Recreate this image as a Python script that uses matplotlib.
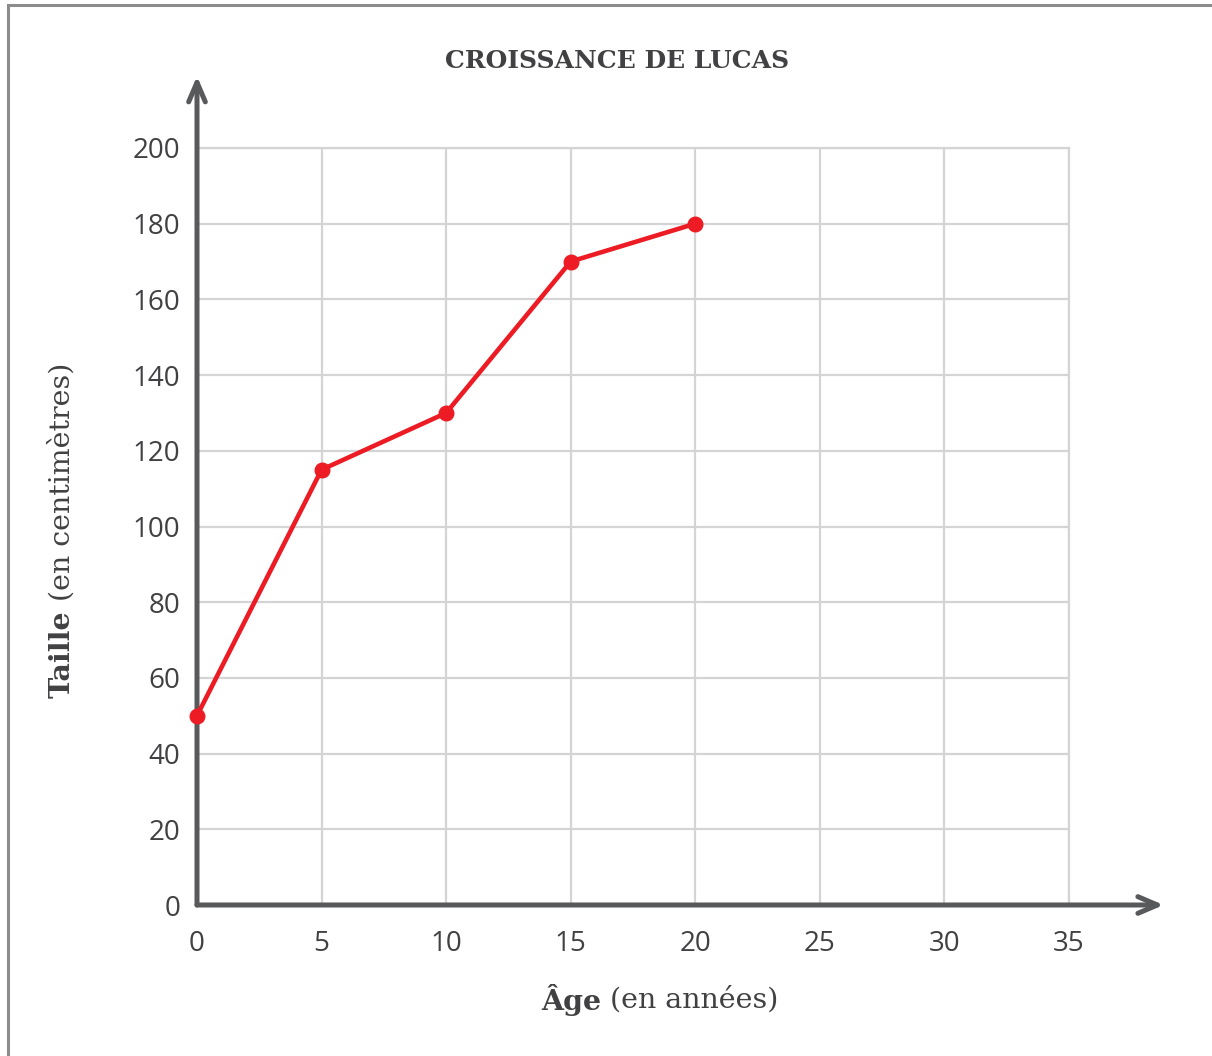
import matplotlib.pyplot as plt
from matplotlib.patches import Rectangle

# Croissance de Lucas
ages = [0, 5, 10, 15, 20]
tailles = [50, 115, 130, 170, 180]
x_ticks = [0, 5, 10, 15, 20, 25, 30, 35]
y_ticks = [0, 20, 40, 60, 80, 100, 120, 140, 160, 180, 200]

axis_col = '#58595b'
text_col = '#414042'
red = '#ed1c24'

fig = plt.figure(figsize=(12.12, 10.56), dpi=100)
ax = fig.add_axes([197/1212, 1 - 905/1056, (1069 - 197)/1212, (905 - 148)/1056])

# cadre gris autour de la figure (coupé à droite et en bas)
fig.patches.append(Rectangle((8/1212, -0.05), 1.2, 1 - 5/1056 + 0.05,
                             transform=fig.transFigure, fill=False,
                             edgecolor='#8c8c8c', lw=2.2))

ax.set_xlim(0, 35)
ax.set_ylim(0, 200)
ax.set_xticks(x_ticks)
ax.set_yticks(y_ticks)
ax.grid(True, color='#d4d4d4', lw=1.6)
ax.set_axisbelow(True)
for s in ['left', 'bottom']:
    ax.spines[s].set_visible(False)
for s in ['top', 'right']:
    ax.spines[s].set_color('#d4d4d4')
    ax.spines[s].set_linewidth(1.6)
ax.tick_params(length=0, labelsize=20, labelcolor=text_col)
ax.tick_params(axis='y', pad=12)
ax.tick_params(axis='x', pad=18)
for lab in ax.get_xticklabels() + ax.get_yticklabels():
    lab.set_family('Open Sans')

# axes avec flèches
arrow = dict(arrowstyle='->,head_length=1.4,head_width=0.6',
             color=axis_col, lw=3.6, shrinkA=0, shrinkB=0)
ax.annotate('', xy=(0, 219), xytext=(0, 0), arrowprops=arrow, annotation_clip=False)
ax.annotate('', xy=(38.8, 0), xytext=(0, 0), arrowprops=arrow, annotation_clip=False)

ax.plot(ages, tailles, color=red, lw=3.3, marker='o', ms=10.5, clip_on=False, zorder=5)

fig.text(617/1212, 1 - 61/1056, 'CROISSANCE DE LUCAS', ha='center', va='center',
         family='DejaVu Serif', weight='bold', fontsize=18, color=text_col)

# titres d'axes : partie en gras + partie normale
fs = 20.5
r = fig.canvas.get_renderer()

b = fig.text(0, 0, 'Âge', family='DejaVu Serif', weight='bold', fontsize=fs,
             color=text_col, va='center')
n = fig.text(0, 0, ' (en années)', family='DejaVu Serif', fontsize=fs,
             color=text_col, va='center')
wb = b.get_window_extent(r).width
wn = n.get_window_extent(r).width
x0 = 660 - (wb + wn) / 2
yc = 1 - 1000/1056
b.set_position((x0/1212, yc))
n.set_position(((x0 + wb)/1212, yc))

b = fig.text(0, 0, 'Taille', family='DejaVu Serif', weight='bold', fontsize=fs,
             color=text_col, ha='center', rotation=90, rotation_mode='anchor')
n = fig.text(0, 0, ' (en centimètres)', family='DejaVu Serif', fontsize=fs,
             color=text_col, ha='center', rotation=90, rotation_mode='anchor')
hb = b.get_window_extent(r).height
hn = n.get_window_extent(r).height
y0 = 1056 - 530 - (hb + hn) / 2
b.set_ha('left')
n.set_ha('left')
b.set_va('center')
n.set_va('center')
b.set_position((62/1212, y0/1056))
n.set_position((62/1212, (y0 + hb)/1056))

plt.savefig('out.png', dpi=100)
